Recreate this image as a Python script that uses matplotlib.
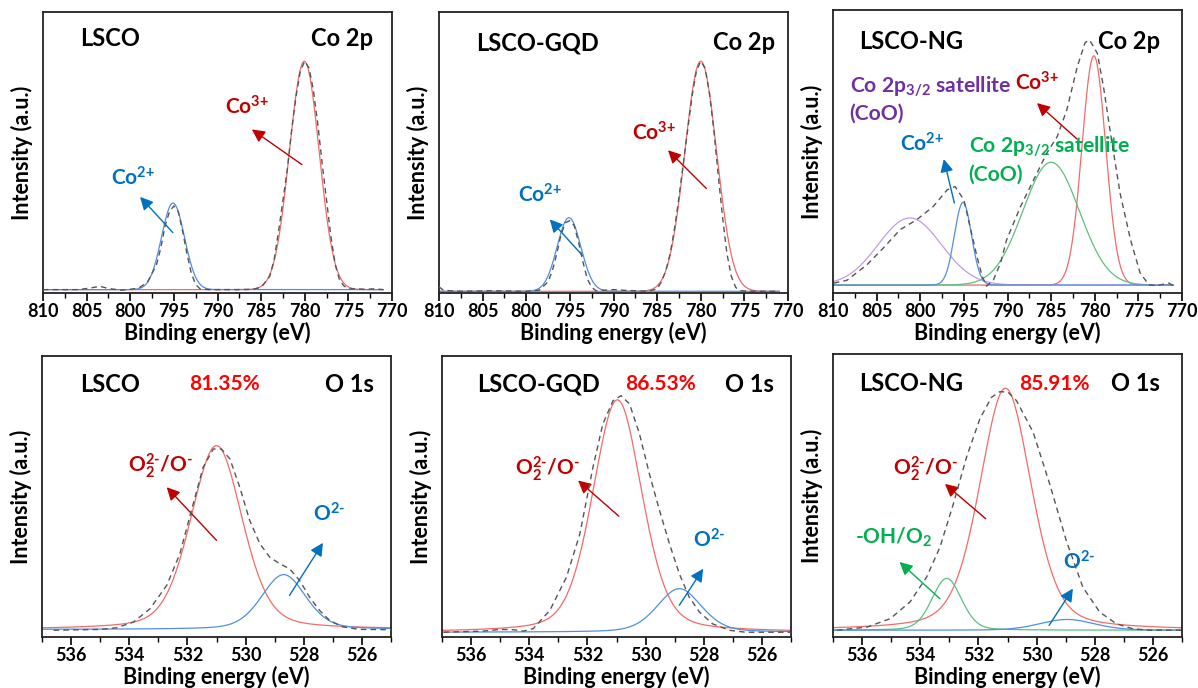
import numpy as np
import matplotlib.pyplot as plt
from matplotlib.ticker import MultipleLocator

plt.rcParams['font.family'] = ['Lato', 'DejaVu Sans']
plt.rcParams['font.weight'] = 'bold'
plt.rcParams['axes.labelweight'] = 'bold'
plt.rcParams['mathtext.fontset'] = 'custom'
plt.rcParams['mathtext.rm'] = 'Lato:bold'
plt.rcParams['mathtext.it'] = 'Lato:bold'
plt.rcParams['mathtext.bf'] = 'Lato:bold'
plt.rcParams['mathtext.default'] = 'bf'

# ---------------- data (intensity normalised 0..1) ----------------
# Co 2p raw spectra (dashed)
co_lsco_be = [810, 806, 804.5, 803.5, 802.5, 801, 800, 799, 798, 797, 796.5, 796, 795.5, 795, 794.5, 794,
              793.5, 793, 792.5, 792, 791, 788, 786, 785, 784, 783.5, 783, 782.5, 782, 781.5, 781, 780.5,
              780, 779.5, 779, 778.5, 778, 777.5, 777, 776.5, 776, 775.5, 775, 774, 773, 772, 771]
co_lsco_int = [0.012, 0.012, 0.018, 0.024, 0.016, 0.010, 0.013, 0.018, 0.04, 0.10, 0.16, 0.24, 0.29, 0.31,
               0.29, 0.22, 0.14, 0.07, 0.03, 0.015, 0.012, 0.012, 0.013, 0.02, 0.06, 0.12, 0.22, 0.33, 0.44,
               0.58, 0.70, 0.79, 0.825, 0.80, 0.72, 0.60, 0.46, 0.33, 0.20, 0.10, 0.045, 0.025, 0.015,
               0.015, 0.013, 0.015, 0.012]

co_gqd_be = [810, 809.5, 808, 804, 800, 798.5, 797.5, 797, 796.5, 796, 795.5, 795, 794.5, 794, 793.5, 793,
             792.5, 792, 790, 789, 786, 785, 784.5, 784, 783.5, 783, 782.5, 782, 781.5, 781, 780.5, 780,
             779.5, 779, 778.5, 778, 777.5, 777, 776.5, 776, 775.5, 774, 771]
co_gqd_int = [0.022, 0.010, 0.006, 0.008, 0.006, 0.010, 0.04, 0.08, 0.14, 0.21, 0.25, 0.258, 0.24, 0.18,
              0.11, 0.05, 0.02, 0.008, 0.012, 0.010, 0.006, 0.015, 0.04, 0.08, 0.14, 0.23, 0.34, 0.46,
              0.58, 0.70, 0.79, 0.825, 0.80, 0.71, 0.58, 0.42, 0.27, 0.14, 0.06, 0.02, 0.008, 0.006, 0.006]

co_ng_be = [809.9, 808.4, 806.1, 804.2, 802.3, 800.4, 798.5, 796.9, 796.0, 795.0, 794.3, 793.5, 792.9,
            792.4, 791.6, 790.8, 790.1, 788.5, 787.0, 785.5, 784.3, 783.2, 782.0, 781.1, 780.6, 779.7,
            779.0, 778.2, 777.1, 775.9, 774.8, 773.8, 772.9, 771.5, 771.0]
co_ng_int = [0.035, 0.045, 0.10, 0.16, 0.224, 0.259, 0.306, 0.365, 0.376, 0.329, 0.235, 0.129, 0.059,
             0.024, 0.047, 0.106, 0.188, 0.306, 0.40, 0.494, 0.553, 0.647, 0.80, 0.885, 0.894, 0.847,
             0.729, 0.565, 0.353, 0.188, 0.071, 0.029, 0.026, 0.035, 0.026]

# O 1s raw spectra (dashed)
o_lsco_be = [536.6, 535.0, 534.43, 533.86, 533.29, 532.71, 532.26, 531.8, 531.46, 531.11, 530.83, 530.54,
             530.2, 529.86, 529.51, 529.17, 528.83, 528.49, 528.14, 527.8, 527.46, 527.11, 526.66,
             526.09, 525.0]
o_lsco_int = [0.024, 0.027, 0.033, 0.053, 0.10, 0.184, 0.296, 0.474, 0.604, 0.669, 0.669, 0.634, 0.533,
              0.415, 0.332, 0.284, 0.261, 0.243, 0.201, 0.142, 0.095, 0.059, 0.036, 0.027, 0.026]

o_gqd_be = [536.94, 535.57, 535.0, 534.55, 534.2, 533.86, 533.29, 532.72, 532.26, 531.81, 531.47, 531.12,
            530.84, 530.55, 530.21, 529.87, 529.52, 529.18, 528.84, 528.5, 528.15, 527.7, 527.13,
            526.56, 525.0]
o_gqd_int = [0.017, 0.021, 0.027, 0.026, 0.021, 0.030, 0.095, 0.213, 0.367, 0.604, 0.758, 0.841, 0.859,
             0.829, 0.723, 0.581, 0.45, 0.332, 0.225, 0.142, 0.089, 0.047, 0.024, 0.017, 0.017]

o_ng_be = [536.86, 535.83, 535.03, 534.35, 533.78, 533.32, 532.86, 532.41, 531.95, 531.55, 531.26, 530.98,
           530.69, 530.12, 529.55, 528.98, 528.41, 527.83, 527.26, 526.69, 526.12, 525.03]
o_ng_int = [0.024, 0.035, 0.065, 0.124, 0.212, 0.318, 0.471, 0.635, 0.771, 0.847, 0.867, 0.865, 0.835,
            0.724, 0.541, 0.341, 0.176, 0.088, 0.047, 0.029, 0.024, 0.024]

# fitted components: centre (eV), height, FWHM (eV), lorentzian fraction
co_lsco_red = [780.05, 0.813, 4.0, 0.0]
co_lsco_blue = [795.1, 0.308, 3.1, 0.0]
co_gqd_red = [780.0, 0.819, 4.3, 0.0]
co_gqd_blue = [795.1, 0.262, 3.2, 0.0]
co_ng_purple = [801.2, 0.237, 8.5, 0.0]
co_ng_blue = [795.1, 0.292, 2.3, 0.0]
co_ng_green = [785.0, 0.434, 7.6, 0.0]
co_ng_red = [780.1, 0.810, 3.2, 0.0]
o_lsco_red = [531.0, 0.654, 2.1, 0.3]
o_lsco_blue = [528.69, 0.195, 1.8, 0.3]
o_gqd_red = [530.97, 0.827, 2.0, 0.3]
o_gqd_blue = [528.84, 0.155, 1.8, 0.3]
o_ng_green = [533.09, 0.183, 1.2, 0.2]
o_ng_red = [531.07, 0.855, 2.1, 0.35]
o_ng_blue = [528.95, 0.038, 2.2, 0.2]

baselines = [0.012, 0.006, 0.028, 0.027, 0.017, 0.024]

RED, BLUE, GREEN, PURPLE = '#f26a6a', '#4f8fe0', '#5cc07e', '#c39be6'
TRED, TBLUE, TGREEN, TPURPLE = '#c00000', '#0070c0', '#00b050', '#7030a0'
TITLE_FS, LAB_FS, SAT_FS, PCT_FS = 17, 15, 15.2, 15


def peak(x, p, base):
    c, h, w, eta = p
    g = np.exp(-4 * np.log(2) * ((x - c) / w) ** 2)
    lo = 1 / (1 + 4 * ((x - c) / w) ** 2)
    return base + h * ((1 - eta) * g + eta * lo)


fig = plt.figure(figsize=(11.98, 6.88), dpi=100)


def px_axes(left, top, right, bottom):
    return fig.add_axes([left / 1198, 1 - bottom / 688, (right - left) / 1198, (bottom - top) / 688])


def setup(ax, xlim, major, minor):
    ax.set_xlim(*xlim)
    ax.set_ylim(0, 1)
    ax.xaxis.set_major_locator(MultipleLocator(major))
    ax.xaxis.set_minor_locator(MultipleLocator(minor))
    ax.set_yticks([])
    ax.tick_params(axis='x', which='major', direction='out', length=6, width=1.2, labelsize=13, pad=1.5)
    ax.tick_params(axis='x', which='minor', direction='out', length=3.5, width=1.0)
    for t in ax.get_xticklabels():
        t.set_fontweight('bold')
    for s in ax.spines.values():
        s.set_linewidth(1.3)
        s.set_color('#222222')
    ax.set_xlabel('Binding energy (eV)', fontsize=15.5, fontweight='bold', labelpad=1)
    ax.set_ylabel('Intensity (a.u.)', fontsize=15.5, fontweight='bold', labelpad=7)


def arrow(ax, tail, head, color):
    ax.annotate('', xy=head, xytext=tail,
                arrowprops=dict(arrowstyle='-|>,head_length=0.55,head_width=0.28', color=color,
                                lw=1.0, mutation_scale=14, shrinkA=0, shrinkB=0))


def comps(ax, x, plist, colors, base):
    for p, c in zip(plist, colors):
        ax.plot(x, peak(x, p, base), color=c, lw=0.9)


def raw(ax, be, it):
    ax.plot(be, it, color='#555555', lw=1.0, ls=(0, (4, 3)), zorder=5)


xco = np.linspace(771, 810, 800)
xo = np.linspace(525, 537, 600)

CO3 = 'Co$^{3\\text{+}}$'
CO2 = 'Co$^{2\\text{+}}$'
O2M = 'O$^{2\\text{-}}$'
PEROX = 'O$_2^{2\\text{-}}$/O$^{\\text{-}}$'
SAT = 'Co 2p$_{3/2}$ satellite'

# ---- Co 2p, LSCO ----
ax = px_axes(43, 12, 392, 293)
setup(ax, (810, 770), 5, 2.5)
comps(ax, xco, [co_lsco_red, co_lsco_blue], [RED, BLUE], baselines[0])
raw(ax, co_lsco_be, co_lsco_int)
ax.text(0.105, 0.905, 'LSCO', transform=ax.transAxes, fontsize=TITLE_FS, va='center')
ax.text(0.947, 0.905, 'Co 2p', transform=ax.transAxes, fontsize=TITLE_FS, va='center', ha='right')
arrow(ax, (780.33, 0.457), (786.06, 0.582), TRED)
ax.text(789.1, 0.663, CO3, color=TRED, fontsize=LAB_FS, va='center')
arrow(ax, (795.12, 0.215), (798.87, 0.342), TBLUE)
ax.text(802.2, 0.41, CO2, color=TBLUE, fontsize=LAB_FS, va='center')

# ---- Co 2p, LSCO-GQD ----
ax = px_axes(439, 12, 788, 293)
setup(ax, (810, 770), 5, 2.5)
comps(ax, xco, [co_gqd_red, co_gqd_blue], [RED, BLUE], baselines[1])
raw(ax, co_gqd_be, co_gqd_int)
ax.text(0.107, 0.89, 'LSCO-GQD', transform=ax.transAxes, fontsize=TITLE_FS, va='center')
ax.text(0.962, 0.89, 'Co 2p', transform=ax.transAxes, fontsize=TITLE_FS, va='center', ha='right')
arrow(ax, (779.36, 0.372), (783.75, 0.508), TRED)
ax.text(787.9, 0.568, CO3, color=TRED, fontsize=LAB_FS, va='center')
arrow(ax, (793.57, 0.134), (797.3, 0.262), TBLUE)
ax.text(800.95, 0.348, CO2, color=TBLUE, fontsize=LAB_FS, va='center')

# ---- Co 2p, LSCO-NG ----
ax = px_axes(833, 10, 1182, 293)
setup(ax, (810, 770), 5, 2.5)
comps(ax, xco, [co_ng_red, co_ng_green, co_ng_purple, co_ng_blue], [RED, GREEN, PURPLE, BLUE], baselines[2])
raw(ax, co_ng_be, co_ng_int)
ax.text(0.074, 0.888, 'LSCO-NG', transform=ax.transAxes, fontsize=TITLE_FS, va='center')
ax.text(0.938, 0.888, 'Co 2p', transform=ax.transAxes, fontsize=TITLE_FS, va='center', ha='right')
ax.text(808.1, 0.73, SAT, color=TPURPLE, fontsize=SAT_FS, va='center')
ax.text(808.1, 0.635, '(CoO)', color=TPURPLE, fontsize=SAT_FS, va='center')
arrow(ax, (782.03, 0.544), (786.62, 0.671), TRED)
ax.text(789.1, 0.741, CO3, color=TRED, fontsize=LAB_FS, va='center')
arrow(ax, (796.09, 0.318), (797.3, 0.473), TBLUE)
ax.text(802.36, 0.527, CO2, color=TBLUE, fontsize=LAB_FS, va='center')
ax.text(794.45, 0.518, SAT, color=TGREEN, fontsize=SAT_FS, va='center')
ax.text(794.45, 0.418, '(CoO)', color=TGREEN, fontsize=SAT_FS, va='center')

# ---- O 1s, LSCO ----
ax = px_axes(42, 356, 391, 637)
setup(ax, (537, 525), 2, 1)
comps(ax, xo, [o_lsco_red, o_lsco_blue], [RED, BLUE], baselines[3])
raw(ax, o_lsco_be, o_lsco_int)
ax.text(0.11, 0.9, 'LSCO', transform=ax.transAxes, fontsize=TITLE_FS, va='center')
ax.text(0.95, 0.9, 'O 1s', transform=ax.transAxes, fontsize=TITLE_FS, va='center', ha='right')
ax.text(531.94, 0.9, '81.35%', color='#ff0000', fontsize=PCT_FS, va='center')
arrow(ax, (531.0, 0.344), (532.71, 0.533), TRED)
ax.text(534.03, 0.61, PEROX, color=TRED, fontsize=LAB_FS, va='center')
arrow(ax, (528.49, 0.148), (527.34, 0.335), TBLUE)
ax.text(527.69, 0.438, O2M, color=TBLUE, fontsize=LAB_FS, va='center')

# ---- O 1s, LSCO-GQD ----
ax = px_axes(442, 356, 791, 637)
setup(ax, (537, 525), 2, 1)
comps(ax, xo, [o_gqd_red, o_gqd_blue], [RED, BLUE], baselines[4])
raw(ax, o_gqd_be, o_gqd_int)
ax.text(0.102, 0.9, 'LSCO-GQD', transform=ax.transAxes, fontsize=TITLE_FS, va='center')
ax.text(0.952, 0.9, 'O 1s', transform=ax.transAxes, fontsize=TITLE_FS, va='center', ha='right')
ax.text(530.69, 0.9, '86.53%', color='#ff0000', fontsize=PCT_FS, va='center')
arrow(ax, (530.92, 0.43), (532.32, 0.557), TRED)
ax.text(534.49, 0.598, PEROX, color=TRED, fontsize=LAB_FS, va='center')
arrow(ax, (528.84, 0.113), (528.02, 0.243), TBLUE)
ax.text(528.38, 0.344, O2M, color=TBLUE, fontsize=LAB_FS, va='center')

# ---- O 1s, LSCO-NG ----
ax = px_axes(833, 354, 1182, 637)
setup(ax, (537, 525), 2, 1)
comps(ax, xo, [o_ng_red, o_ng_green, o_ng_blue], [RED, GREEN, BLUE], baselines[5])
raw(ax, o_ng_be, o_ng_int)
ax.text(0.074, 0.894, 'LSCO-NG', transform=ax.transAxes, fontsize=TITLE_FS, va='center')
ax.text(0.938, 0.894, 'O 1s', transform=ax.transAxes, fontsize=TITLE_FS, va='center', ha='right')
ax.text(530.6, 0.894, '85.91%', color='#ff0000', fontsize=PCT_FS, va='center')
arrow(ax, (531.75, 0.418), (533.15, 0.541), TRED)
ax.text(534.92, 0.594, PEROX, color=TRED, fontsize=LAB_FS, va='center')
arrow(ax, (533.32, 0.135), (534.71, 0.265), TGREEN)
ax.text(536.23, 0.353, '-OH/O$_2$', color=TGREEN, fontsize=LAB_FS, va='center')
arrow(ax, (529.57, 0.041), (528.75, 0.171), TBLUE)
ax.text(529.09, 0.265, O2M, color=TBLUE, fontsize=LAB_FS, va='center')

fig.savefig('out.png', dpi=100)
